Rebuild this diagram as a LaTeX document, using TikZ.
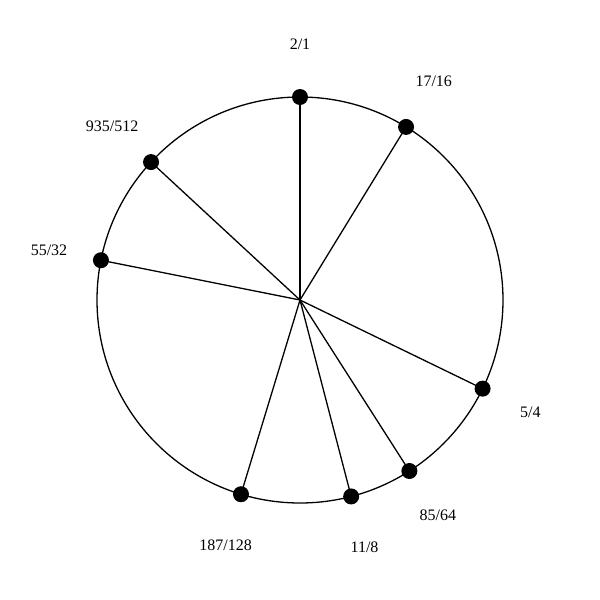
\documentclass[tikz,border=0pt]{standalone}
\usepackage{fontspec}
\setmainfont{Liberation Serif}
\usetikzlibrary{calc}
\begin{document}
\begin{tikzpicture}[x=1pt,y=-1pt,
  dot/.style={circle,fill=black,inner sep=0pt,minimum size=16pt},
  lbl/.style={font=\fontsize{16}{18}\selectfont,inner sep=0pt},
  spoke/.style={line width=1.3pt}]
\useasboundingbox (0,0) rectangle (600,600);
\fill[white] (0,0) rectangle (600,600);
\coordinate (c) at (300,300);
\draw[line width=1.3pt] (c) circle[radius=203];
\foreach \name/\ang/\txt in {a/0/2\slash 1, b/31.5/17\slash 16, d/115.9/5\slash 4, e/147.4/85\slash 64, f/165.4/11\slash 8, g/196.9/187\slash 128, h/281.3/55\slash 32, k/312.8/935\slash 512}{
  \coordinate (p\name) at ($(c)+({203*sin(\ang)},{-203*cos(\ang)})$);
  \draw[spoke] (c) -- (p\name);
  \node[dot] (n\name) at (p\name) {};
  \node[lbl] (l\name) at ($(c)+({256*sin(\ang)},{-256*cos(\ang)})$) {\txt};
}
\end{tikzpicture}
\end{document}
